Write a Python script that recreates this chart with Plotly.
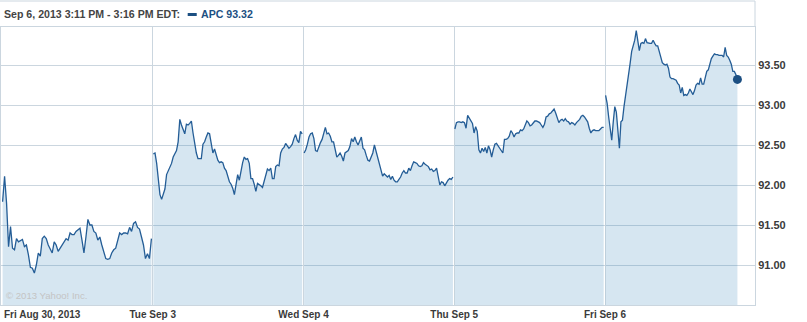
import plotly.graph_objects as go

# ---- data (APC intraday, 5 sessions) ----
day_labels = ["Fri Aug 30, 2013", "Tue Sep 3", "Wed Sep 4", "Thu Sep 5", "Fri Sep 6"]
session_end_min = [385, 385, 385, 385, 341]   # minutes after 9:30 of last quote

aug30 = [91.79, 92.11, 91.77, 91.23, 91.48, 91.21, 91.19, 91.33, 91.29, 91.31, 91.32, 91.23,
         91.25, 91.13, 90.97, 90.96, 90.90, 91.00, 91.15, 91.11, 91.33, 91.36, 91.33, 91.25,
         91.19, 91.15, 91.29, 91.25, 91.17, 91.21, 91.25, 91.29, 91.33, 91.31, 91.40, 91.38,
         91.38, 91.42, 91.44, 91.46, 91.31, 91.15, 91.35, 91.57, 91.50, 91.50, 91.42, 91.40,
         91.31, 91.35, 91.25, 91.15, 91.08, 91.07, 91.08, 91.15, 91.19, 91.21, 91.29, 91.40,
         91.38, 91.40, 91.40, 91.39, 91.47, 91.42, 91.52, 91.54, 91.47, 91.45, 91.35, 91.25,
         91.08, 91.14, 91.08, 91.33]

sep3 = [92.39, 92.40, 92.27, 92.04, 91.88, 91.82, 91.88, 91.95, 92.13, 92.17, 92.21, 92.27,
        92.35, 92.40, 92.43, 92.54, 92.82, 92.75, 92.68, 92.64, 92.76, 92.75, 92.77, 92.80,
        92.65, 92.50, 92.40, 92.33, 92.33, 92.33, 92.51, 92.54, 92.60, 92.65, 92.64, 92.52,
        92.40, 92.45, 92.36, 92.31, 92.28, 92.29, 92.28, 92.21, 92.18, 92.10, 92.04, 92.01,
        91.96, 91.88, 92.04, 92.13, 92.06, 92.19, 92.28, 92.35, 92.32, 92.33, 92.27, 92.08,
        92.08, 92.01, 91.92, 92.02, 92.01, 91.99, 91.97, 92.04, 92.11, 92.20, 92.18, 92.21,
        92.08, 92.08, 92.23, 92.25, 92.24, 92.40, 92.45, 92.47, 92.52, 92.48, 92.46, 92.48,
        92.51, 92.58, 92.63, 92.56, 92.53, 92.67, 92.64]

sep4 = [92.40, 92.44, 92.51, 92.60, 92.64, 92.65, 92.58, 92.43, 92.42, 92.49, 92.53, 92.57,
        92.65, 92.72, 92.64, 92.65, 92.61, 92.54, 92.54, 92.43, 92.35, 92.37, 92.40, 92.36,
        92.30, 92.40, 92.42, 92.43, 92.48, 92.58, 92.54, 92.60, 92.54, 92.50, 92.55, 92.60,
        92.46, 92.44, 92.37, 92.31, 92.30, 92.35, 92.40, 92.50, 92.42, 92.33, 92.27, 92.17,
        92.11, 92.14, 92.12, 92.10, 92.12, 92.07, 92.11, 92.06, 92.04, 92.04, 92.07, 92.10,
        92.15, 92.18, 92.15, 92.15, 92.21, 92.18, 92.24, 92.29, 92.28, 92.27, 92.24, 92.23,
        92.24, 92.28, 92.26, 92.24, 92.23, 92.19, 92.20, 92.17, 92.18, 92.21, 92.08, 92.00,
        92.04, 92.03, 91.99, 92.03, 92.06, 92.08, 92.07, 92.10]

sep5 = [92.70, 92.78, 92.79, 92.79, 92.78, 92.79, 92.78, 92.71, 92.87, 92.83, 92.79, 92.77,
        92.65, 92.73, 92.67, 92.44, 92.40, 92.46, 92.42, 92.47, 92.40, 92.49, 92.44, 92.35,
        92.44, 92.51, 92.52, 92.49, 92.45, 92.43, 92.40, 92.57, 92.57, 92.58, 92.61, 92.68,
        92.65, 92.60, 92.64, 92.65, 92.65, 92.69, 92.68, 92.70, 92.75, 92.80, 92.78, 92.74,
        92.75, 92.78, 92.80, 92.80, 92.79, 92.78, 92.75, 92.72, 92.76, 92.85, 92.86, 92.89,
        92.90, 92.93, 92.95, 92.90, 92.85, 92.78, 92.81, 92.82, 92.80, 92.83, 92.80, 92.79,
        92.76, 92.78, 92.77, 92.75, 92.78, 92.80, 92.82, 92.86, 92.87, 92.85, 92.82, 92.79,
        92.71, 92.65, 92.68, 92.69, 92.68, 92.68, 92.68, 92.70, 92.72, 92.72]

sep6 = [93.12, 93.02, 92.85, 92.67, 92.56, 92.79, 92.98, 92.91, 92.71, 92.46, 92.79, 92.81,
        92.98, 93.10, 93.23, 93.38, 93.52, 93.67, 93.74, 93.81, 93.93, 93.77, 93.68, 93.77,
        93.78, 93.77, 93.83, 93.78, 93.77, 93.77, 93.77, 93.81, 93.77, 93.74, 93.74, 93.68,
        93.60, 93.53, 93.51, 93.50, 93.51, 93.46, 93.35, 93.33, 93.33, 93.32, 93.31, 93.27,
        93.25, 93.15, 93.22, 93.12, 93.13, 93.12, 93.15, 93.20, 93.17, 93.13, 93.18, 93.25,
        93.27, 93.26, 93.34, 93.26, 93.26, 93.33, 93.42, 93.44, 93.53, 93.58, 93.61, 93.64,
        93.63, 93.63, 93.62, 93.62, 93.62, 93.60, 93.72, 93.62, 93.60, 93.56, 93.51, 93.42,
        93.42, 93.38, 93.32]

sessions = [aug30, sep3, sep4, sep5, sep6]
y_ticks = [91.0, 91.5, 92.0, 92.5, 93.0, 93.5]
ticker = "APC"
last_price = sep6[-1]
header_text = "Sep 6, 2013 3:11 PM - 3:16 PM EDT:"

# ---- style ----
LINE = "#245d96"
FILL = "rgba(50,130,185,0.20)"
GRID = "#cbd6df"
TXT = "#3a3a3a"
FONT = "Liberation Sans"

fig = go.Figure()
for d, (vals, end_min) in enumerate(zip(sessions, session_end_min)):
    n = len(vals)
    xs = [d + 0.004 + (end_min * i / (n - 1)) / 390.0 for i in range(n)]
    fig.add_trace(go.Scatter(x=xs, y=vals, mode="lines", fill="tozeroy",
                             fillcolor=FILL, line=dict(color=LINE, width=1.3),
                             hoverinfo="skip", showlegend=False))
    if d == len(sessions) - 1:
        fig.add_trace(go.Scatter(x=[xs[-1]], y=[vals[-1]], mode="markers",
                                 marker=dict(color="#1c4f82", size=9),
                                 hoverinfo="skip", showlegend=False))

fig.update_layout(
    width=807, height=322,
    margin=dict(l=1, r=52, t=27, b=17),
    paper_bgcolor="white", plot_bgcolor="white",
    font=dict(family=FONT, size=10, color=TXT),
    xaxis=dict(range=[-0.0066, 4.995], tickvals=[0, 1, 2, 3, 4],
               ticktext=[""] + day_labels[1:], showgrid=True, gridcolor=GRID,
               gridwidth=1, zeroline=False, showline=True, linecolor=GRID,
               mirror=True, ticks="", tickfont=dict(family=FONT, size=10, color=TXT, weight="bold")),
    yaxis=dict(range=[90.5, 93.975], side="right", tickvals=y_ticks,
               ticktext=[f"{v:.2f}" for v in y_ticks], showgrid=True,
               gridcolor=GRID, gridwidth=1, zeroline=False, showline=True,
               linecolor=GRID, mirror=True, ticks="", ticklabelstandoff=0,
               tickfont=dict(family=FONT, size=11, color=TXT, weight="bold")),
)

# first day label, left aligned
fig.add_annotation(x=0, y=0, xref="paper", yref="paper", xanchor="left", yanchor="top",
                   yshift=-2, xshift=1, text=day_labels[0], showarrow=False,
                   font=dict(family=FONT, size=10, color=TXT, weight="bold"))

# header box
fig.add_shape(type="line", xref="paper", yref="paper", x0=-0.002, x1=1.0, y0=1.0935, y1=1.0935,
              line=dict(color=GRID, width=1))
fig.add_shape(type="line", xref="paper", yref="paper", x0=1.0, x1=1.0, y0=1.0, y1=1.0935,
              line=dict(color=GRID, width=1))
fig.add_annotation(x=0, y=1.047, xref="paper", yref="paper", xanchor="left", yanchor="middle",
                   xshift=1, text=header_text, showarrow=False,
                   font=dict(family=FONT, size=10.6, color="#444444", weight="bold"))
fig.add_shape(type="rect", xref="paper", yref="paper", x0=0.2476, x1=0.2596,
              y0=1.0395, y1=1.0503, fillcolor="#1c4f82", line=dict(width=0))
fig.add_annotation(x=0.2625, y=1.047, xref="paper", yref="paper", xanchor="left", yanchor="middle",
                   text=f"{ticker} {last_price:.2f}", showarrow=False,
                   font=dict(family=FONT, size=10.6, color="#1c4f82", weight="bold"))

# copyright
fig.add_annotation(x=0, y=0, xref="paper", yref="paper", xanchor="left", yanchor="bottom",
                   xshift=3, yshift=2, text="© 2013 Yahoo! Inc.", showarrow=False,
                   font=dict(family=FONT, size=9.6, color="#c4c4c4"))

fig.write_html("out.html")
